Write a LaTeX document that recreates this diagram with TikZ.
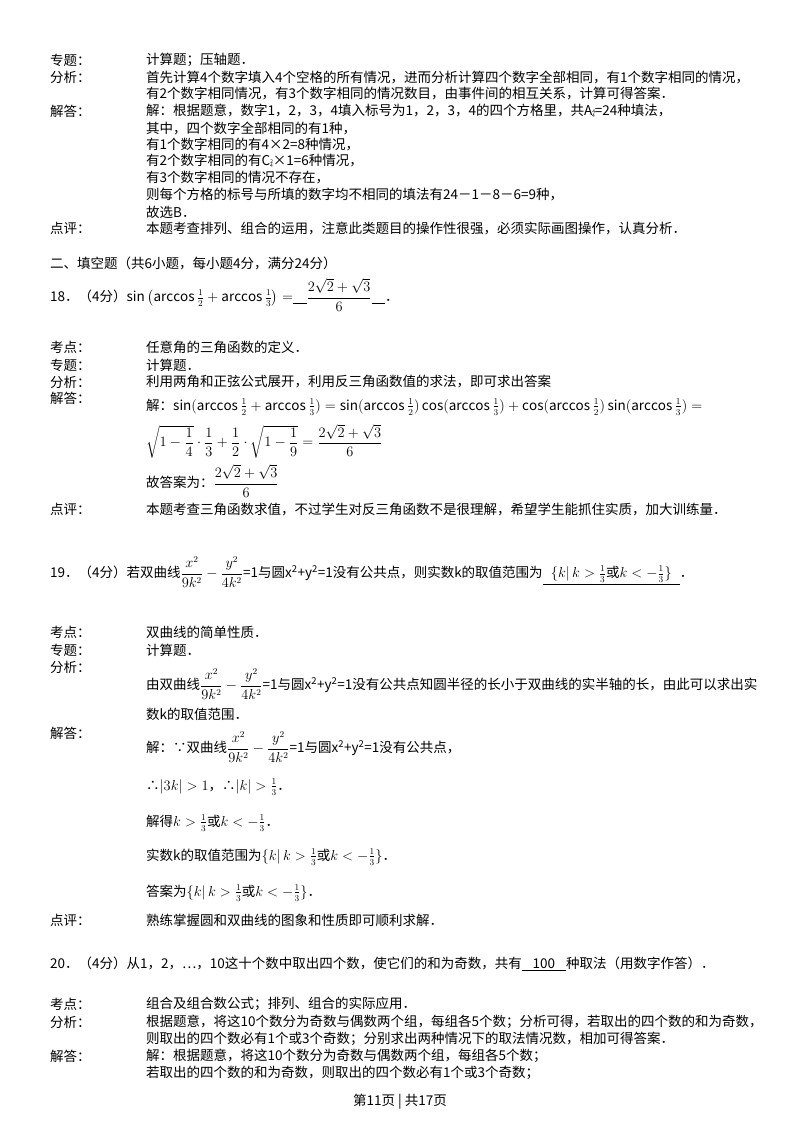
\documentclass[tikz,border=0pt]{standalone}
\usepackage{fontspec}
\setmainfont{Noto Sans CJK SC}
\usepackage{amsmath,amssymb}
\begin{document}
\begin{tikzpicture}[x=1pt,y=-1pt,
  lab/.style={anchor=west,inner sep=0pt,font=\fontsize{13.5}{15}\selectfont},
  txt/.style={anchor=west,inner sep=0pt,font=\fontsize{13.5}{15}\selectfont}]
\useasboundingbox[fill=white] (0,0) rectangle (800,1132);
% block 1
\node[lab] (a1) at (50,60) {专题：};
\node[txt] (a2) at (146,60) {计算题；压轴题．};
\node[lab] (a3) at (50,77) {分析：};
\node[txt] (a4) at (146,77) {首先计算4个数字填入4个空格的所有情况，进而分析计算四个数字全部相同，有1个数字相同的情况，};
\node[txt] (a5) at (146,94) {有2个数字相同情况，有3个数字相同的情况数目，由事件间的相互关系，计算可得答案．};
\node[lab] (a6) at (50,111) {解答：};
\node[txt] (a7) at (146,111) {解：根据题意，数字1，2，3，4填入标号为1，2，3，4的四个方格里，共A\raisebox{2pt}{\tiny 4}\hspace{-3pt}\raisebox{-2pt}{\tiny 4}=24种填法，};
\node[txt] (a8) at (146,128) {其中，四个数字全部相同的有1种，};
\node[txt] (a9) at (146,145) {有1个数字相同的有4×2=8种情况，};
\node[txt] (a10) at (146,161) {有2个数字相同的有C\raisebox{2pt}{\tiny 2}\hspace{-3pt}\raisebox{-2pt}{\tiny 4}×1=6种情况，};
\node[txt] (a11) at (146,178) {有3个数字相同的情况不存在，};
\node[txt] (a12) at (146,195) {则每个方格的标号与所填的数字均不相同的填法有24－1－8－6=9种，};
\node[txt] (a13) at (146,212) {故选B．};
\node[lab] (a14) at (50,228) {点评：};
\node[txt] (a15) at (146,228) {本题考查排列、组合的运用，注意此类题目的操作性很强，必须实际画图操作，认真分析．};
% 18
\node[txt] (b1) at (50,263) {二、填空题（共6小题，每小题4分，满分24分）};
\node[txt] (b2) at (50,295) {18．（4分）$\sin\left(\arccos\frac12+\arccos\frac13\right)=$\underline{\hspace{1em}}$\dfrac{2\sqrt2+\sqrt3}{6}$\underline{\hspace{1em}}．};
\node[lab] (b3) at (50,347) {考点：};
\node[txt] (b4) at (146,347) {任意角的三角函数的定义．};
\node[lab] (b5) at (50,365) {专题：};
\node[txt] (b6) at (146,365) {计算题．};
\node[lab] (b7) at (50,382) {分析：};
\node[txt] (b8) at (146,382) {利用两角和正弦公式展开，利用反三角函数值的求法，即可求出答案};
\node[lab] (b9) at (50,398) {解答：};
\node[txt] (b10) at (146,407) {解：$\sin(\arccos\frac12+\arccos\frac13)=\sin(\arccos\frac12)\cos(\arccos\frac13)+\cos(\arccos\frac12)\sin(\arccos\frac13)=$};
\node[txt] (b11) at (146,441) {$\sqrt{1-\dfrac14}\cdot\dfrac13+\dfrac12\cdot\sqrt{1-\dfrac19}=\dfrac{2\sqrt2+\sqrt3}{6}$};
\node[txt] (b12) at (146,481) {故答案为：$\dfrac{2\sqrt2+\sqrt3}{6}$};
\node[lab] (b13) at (50,509) {点评：};
\node[txt] (b14) at (146,509) {本题考查三角函数求值，不过学生对反三角函数不是很理解，希望学生能抓住实质，加大训练量．};
% 19
\node[txt] (c1) at (50,572) {19．（4分）若双曲线$\dfrac{x^2}{9k^2}-\dfrac{y^2}{4k^2}$=1与圆x\textsuperscript{2}+y\textsuperscript{2}=1没有公共点，则实数k的取值范围为\underline{\hspace{0.6em}$\{k|\,k>\frac13$或$k<-\frac13\}$\hspace{0.6em}}．};
\node[lab] (c2) at (50,632) {考点：};
\node[txt] (c3) at (146,632) {双曲线的简单性质．};
\node[lab] (c4) at (50,650) {专题：};
\node[txt] (c5) at (146,650) {计算题．};
\node[lab] (c6) at (50,667) {分析：};
\node[txt] (c7) at (146,684) {由双曲线$\dfrac{x^2}{9k^2}-\dfrac{y^2}{4k^2}$=1与圆x\textsuperscript{2}+y\textsuperscript{2}=1没有公共点知圆半径的长小于双曲线的实半轴的长，由此可以求出实};
\node[txt] (c8) at (146,714) {数k的取值范围．};
\node[lab] (c9) at (50,733) {解答：};
\node[txt] (c10) at (146,747) {解：∵双曲线$\dfrac{x^2}{9k^2}-\dfrac{y^2}{4k^2}$=1与圆x\textsuperscript{2}+y\textsuperscript{2}=1没有公共点，};
\node[txt] (c11) at (146,787) {∴$|3k|>1$，∴$|k|>\frac13$．};
\node[txt] (c12) at (146,823) {解得$k>\frac13$或$k<-\frac13$．};
\node[txt] (c13) at (146,857) {实数k的取值范围为$\{k|\,k>\frac13$或$k<-\frac13\}$．};
\node[txt] (c14) at (146,893) {答案为$\{k|\,k>\frac13$或$k<-\frac13\}$．};
\node[lab] (c15) at (50,920) {点评：};
\node[txt] (c16) at (146,920) {熟练掌握圆和双曲线的图象和性质即可顺利求解．};
% 20
\node[txt] (d1) at (50,964) {20．（4分）从1，2，…，10这十个数中取出四个数，使它们的和为奇数，共有\underline{\hspace{0.8em}100\hspace{0.8em}}种取法（用数字作答）．};
\node[lab] (d2) at (50,1004) {考点：};
\node[txt] (d3) at (146,1004) {组合及组合数公式；排列、组合的实际应用．};
\node[lab] (d4) at (50,1022) {分析：};
\node[txt] (d5) at (146,1022) {根据题意，将这10个数分为奇数与偶数两个组，每组各5个数；分析可得，若取出的四个数的和为奇数，};
\node[txt] (d6) at (146,1039) {则取出的四个数必有1个或3个奇数；分别求出两种情况下的取法情况数，相加可得答案．};
\node[lab] (d7) at (50,1056) {解答：};
\node[txt] (d8) at (146,1056) {解：根据题意，将这10个数分为奇数与偶数两个组，每组各5个数；};
\node[txt] (d9) at (146,1073) {若取出的四个数的和为奇数，则取出的四个数必有1个或3个奇数；};
\node[txt,anchor=center] (f1) at (400,1102) {第11页 | 共17页};
\end{tikzpicture}
\end{document}
